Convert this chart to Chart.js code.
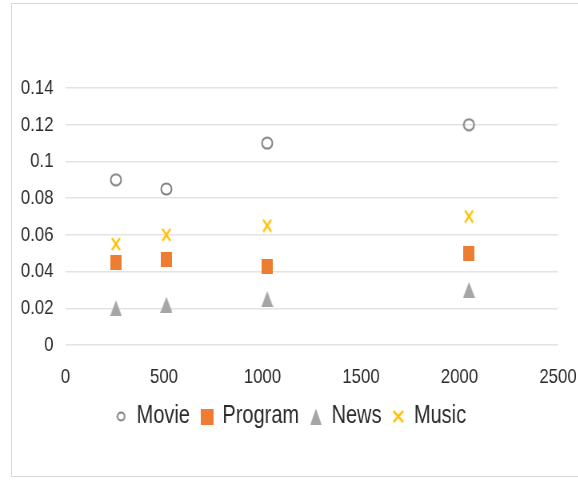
<!DOCTYPE html>
<html>
<head>
<meta charset="utf-8">
<script src="https://cdn.jsdelivr.net/npm/chart.js@4/dist/chart.umd.min.js"></script>
<style>
  html, body { margin: 0; padding: 0; background: #fff; overflow: hidden; }
  #frame {
    position: absolute; left: 11px; top: 3px; width: 700px; height: 474px;
    border: 1px solid #d9d9d9; box-sizing: border-box;
  }
  /* chart is laid out wider, then squeezed to the narrow look */
  #wrap {
    position: absolute; left: 0; top: 0; width: 722px; height: 480px;
    transform: scaleX(0.8); transform-origin: 0 0;
  }
</style>
</head>
<body>
<div id="frame"></div>
<div id="wrap"><canvas id="scatter" width="722" height="480"></canvas></div>
<script>
const sizes = [256, 512, 1024, 2048];
const movie = [0.09, 0.085, 0.11, 0.12];
const program = [0.045, 0.0465, 0.043, 0.05];
const news = [0.02, 0.022, 0.025, 0.03];
const music = [0.055, 0.06, 0.065, 0.07];
const xTicks = [0, 500, 1000, 1500, 2000, 2500];
const yTicks = [0, 0.02, 0.04, 0.06, 0.08, 0.1, 0.12, 0.14];

const FONT = "'Liberation Sans', Arial, sans-serif";
const TEXT = '#2b2b2b';

// small offscreen canvases used as marker shapes
function marker(w, h, draw) {
  const c = document.createElement('canvas');
  c.width = w;
  c.height = h;
  draw(c.getContext('2d'), w, h);
  return c;
}

function ring(w, h) {
  return marker(w, h, (ctx) => {
    ctx.strokeStyle = '#808080';
    ctx.lineWidth = 2;
    ctx.beginPath();
    ctx.ellipse(w / 2, h / 2, w / 2 - 1.5, h / 2 - 1.5, 0, 0, Math.PI * 2);
    ctx.stroke();
  });
}

function block(w, h) {
  return marker(w, h, (ctx) => {
    ctx.fillStyle = '#ed7d31';
    ctx.fillRect(0, 0, w, h);
  });
}

function tri(w, h) {
  return marker(w, h, (ctx) => {
    ctx.fillStyle = '#a5a5a5';
    ctx.beginPath();
    ctx.moveTo(w / 2, 0);
    ctx.lineTo(w, h);
    ctx.lineTo(0, h);
    ctx.closePath();
    ctx.fill();
  });
}

function cross(w, h) {
  return marker(w, h, (ctx) => {
    ctx.strokeStyle = '#ffc000';
    ctx.lineWidth = 2.4;
    ctx.beginPath();
    ctx.moveTo(1.5, 1);
    ctx.lineTo(w - 1.5, h - 1);
    ctx.moveTo(w - 1.5, 1);
    ctx.lineTo(1.5, h - 1);
    ctx.stroke();
  });
}

const plotMarks = [ring(16, 14), block(14, 15), tri(15, 16), cross(13, 14)];
const legendMarks = [ring(12, 11), block(16, 16), tri(14, 16), cross(15, 13)];

function toPoints(ys) {
  return sizes.map((x, i) => ({ x: x, y: ys[i] }));
}

const names = ['Movie', 'Program', 'News', 'Music'];
const series = [movie, program, news, music];

const datasets = series.map((ys, i) => ({
  label: names[i],
  data: toPoints(ys),
  pointStyle: plotMarks[i],
  pointRadius: 8,
  pointHoverRadius: 8
}));

new Chart(document.getElementById('scatter'), {
  type: 'scatter',
  data: { datasets: datasets },
  options: {
    responsive: false,
    animation: false,
    layout: { padding: { left: 11, right: 6, top: 88, bottom: 41 } },
    plugins: {
      tooltip: { enabled: false },
      legend: {
        position: 'bottom',
        labels: {
          usePointStyle: true,
          pointStyleWidth: 14,
          padding: 14,
          color: TEXT,
          font: { family: FONT, size: 25 },
          generateLabels(chart) {
            const items = Chart.defaults.plugins.legend.labels.generateLabels(chart);
            items.forEach((item, i) => { item.pointStyle = legendMarks[i]; });
            return items;
          }
        }
      }
    },
    scales: {
      x: {
        type: 'linear',
        min: xTicks[0],
        max: xTicks[xTicks.length - 1],
        afterBuildTicks(scale) { scale.ticks = xTicks.map(v => ({ value: v })); },
        afterFit(scale) {
          // fixed band under the plot, and a fixed gap for the last label
          scale.height = 45;
          scale.paddingLeft = 0;
          scale.paddingRight = 24.5;
        },
        grid: { display: false, drawTicks: false },
        border: { display: false },
        ticks: {
          padding: 20,
          color: TEXT,
          font: { family: FONT, size: 21 },
          callback: v => String(v)
        }
      },
      y: {
        min: yTicks[0],
        max: yTicks[yTicks.length - 1],
        afterBuildTicks(scale) { scale.ticks = yTicks.map(v => ({ value: v })); },
        grid: { color: '#e3e3e3', lineWidth: 1.5, drawTicks: false },
        border: { display: false },
        ticks: {
          padding: 15,
          color: TEXT,
          font: { family: FONT, size: 21 },
          callback: v => String(Number(v.toFixed(2)))
        }
      }
    }
  }
});
</script>
</body>
</html>
